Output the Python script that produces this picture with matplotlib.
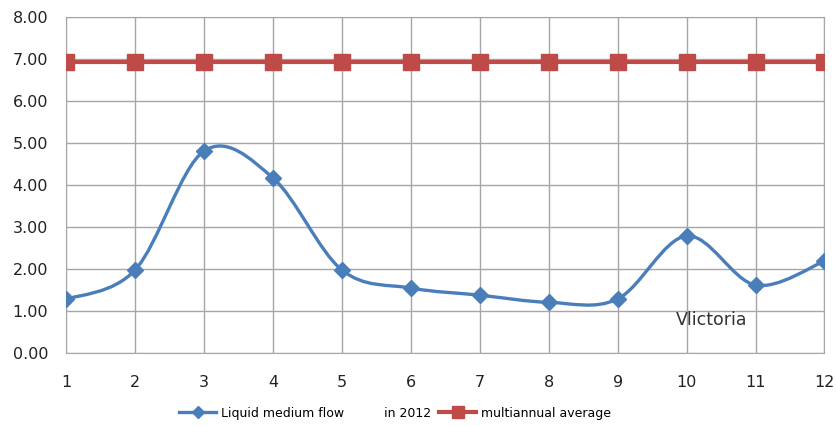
import matplotlib.pyplot as plt
from matplotlib.path import Path
from matplotlib.patches import PathPatch
from matplotlib.lines import Line2D

months = [1, 2, 3, 4, 5, 6, 7, 8, 9, 10, 11, 12]
flow_2012 = [1.28, 1.98, 4.81, 4.17, 1.98, 1.55, 1.38, 1.21, 1.29, 2.79, 1.62, 2.19]
average = [6.92] * 12
y_ticks = [0, 1, 2, 3, 4, 5, 6, 7, 8]

blue = '#4a7ebb'
red = '#be4b48'
grid_c = '#a6a6a6'


def smooth_path(x, y):
    # Excel-like smoothed line: cubic bezier through the points
    verts = [(x[0], y[0])]
    codes = [Path.MOVETO]
    n = len(x)
    for i in range(n - 1):
        x0, y0 = (x[i - 1], y[i - 1]) if i > 0 else (x[i], y[i])
        x3, y3 = (x[i + 2], y[i + 2]) if i + 2 < n else (x[i + 1], y[i + 1])
        c1 = (x[i] + (x[i + 1] - x0) / 6, y[i] + (y[i + 1] - y0) / 6)
        c2 = (x[i + 1] - (x3 - x[i]) / 6, y[i + 1] - (y3 - y[i]) / 6)
        verts += [c1, c2, (x[i + 1], y[i + 1])]
        codes += [Path.CURVE4] * 3
    return Path(verts, codes)


fig = plt.figure(figsize=(8.37, 4.26), dpi=100)
ax = fig.add_axes([0.079, 0.171, 0.906, 0.789])

ax.add_patch(PathPatch(smooth_path(months, flow_2012), fill=False,
                       edgecolor=blue, linewidth=2.4, zorder=3))
ax.plot(months, flow_2012, linestyle='none', marker='D', markersize=8,
        color=blue, zorder=4)
ax.plot(months, average, color=red, linewidth=3, marker='s', markersize=12,
        zorder=4)

ax.set_xlim(1, 12)
ax.set_ylim(0, 8)
ax.set_xticks(months)
ax.set_yticks(y_ticks)
ax.set_yticklabels(['%.2f' % v for v in y_ticks])
ax.grid(True, color=grid_c, linewidth=1)
ax.set_axisbelow(True)
for s in ax.spines.values():
    s.set_color(grid_c)
ax.tick_params(length=0, labelsize=11.5, colors='#222222')
ax.tick_params(axis='x', pad=16)
ax.tick_params(axis='y', pad=13)

ax.text(9.84, 0.79, 'Vlictoria', fontsize=12.5, color='#333333', va='center')

handles = [
    Line2D([], [], color=blue, linewidth=2.4, marker='D', markersize=6),
    Line2D([], [], color=red, linewidth=3, marker='s', markersize=8),
]
fig.legend(handles, ['Liquid medium flow          in 2012', 'multiannual average'],
           loc='center', bbox_to_anchor=(0.472, 0.03), ncol=2, frameon=False,
           fontsize=9, handlelength=3.0, columnspacing=0.6, handletextpad=0.4)

fig.savefig('out.png', dpi=100)
